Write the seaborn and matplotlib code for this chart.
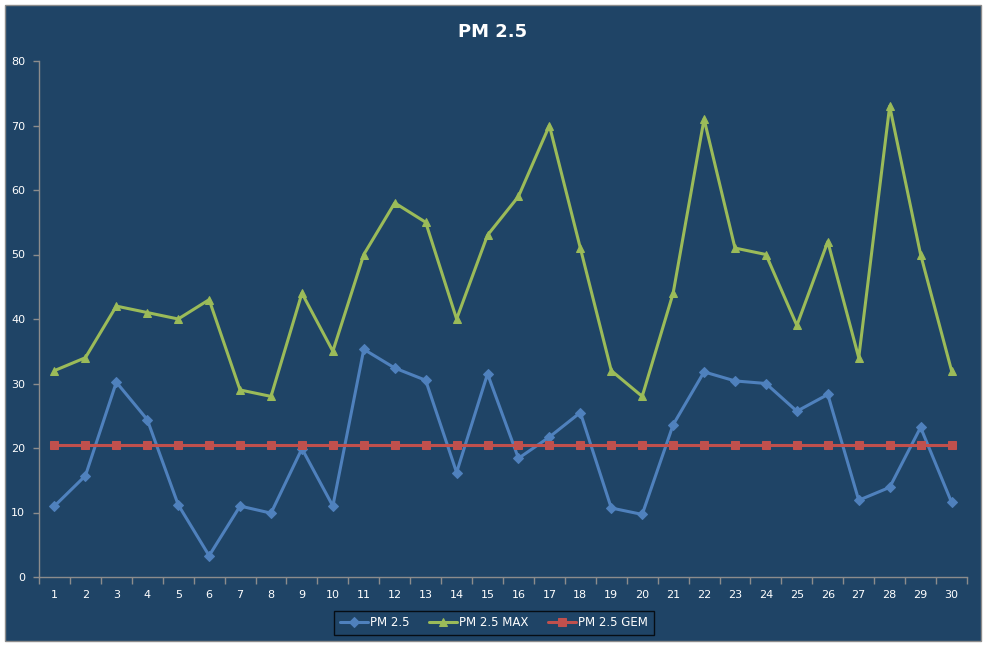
import numpy as np
import pandas as pd
import matplotlib
matplotlib.use("Agg")
import matplotlib.pyplot as plt
import seaborn as sns
from matplotlib.patches import Rectangle

# data
days = list(range(1, 31))
pm25 = [11.0, 15.7, 30.2, 24.4, 11.2, 3.3, 11.0, 9.9, 19.9, 11.0,
        35.3, 32.4, 30.5, 16.2, 31.5, 18.4, 21.7, 25.5, 10.7, 9.7,
        23.6, 31.8, 30.4, 30.0, 25.7, 28.3, 11.9, 13.9, 23.2, 11.6]
pm25_max = [32, 34, 42, 41, 40, 43, 29, 28, 44, 35,
            50, 58, 55, 40, 53, 59, 70, 51, 32, 28,
            44, 71, 51, 50, 39, 52, 34, 73, 50, 32]
pm25_gem = [20.4] * 30

series_names = ["PM 2.5", "PM 2.5 MAX", "PM 2.5 GEM"]

df = pd.DataFrame({"day": days, "PM 2.5": pm25,
                   "PM 2.5 MAX": pm25_max, "PM 2.5 GEM": pm25_gem})
long_df = df.melt(id_vars="day", var_name="series", value_name="value")

bg = "#1F4466"
colors = {"PM 2.5": "#4F81BD", "PM 2.5 MAX": "#9BBB59", "PM 2.5 GEM": "#C0504D"}
markers = {"PM 2.5": "D", "PM 2.5 MAX": "^", "PM 2.5 GEM": "s"}
msizes = {"PM 2.5": 5, "PM 2.5 MAX": 6, "PM 2.5 GEM": 6}

sns.set_style("white")
plt.rcParams['font.family'] = ['DejaVu Sans']

fig = plt.figure(figsize=(9.87, 6.48), dpi=100)
fig.patch.set_facecolor("white")
W, H = 987, 648
# chart area frame, kept behind the axes
fig.patches.append(Rectangle((5 / W, 1 - 641 / H), 976 / W, 636 / H,
                             transform=fig.transFigure, facecolor=bg,
                             edgecolor="#8c8c8c", linewidth=1, zorder=-10))

ax = fig.add_axes([39 / W, 1 - 577 / H, 928 / W, 516 / H])
ax.set_facecolor(bg)
ax.set_zorder(1)

for name in series_names:
    sub = long_df[long_df["series"] == name]
    sns.lineplot(data=sub, x="day", y="value", ax=ax, color=colors[name],
                 marker=markers[name], markersize=msizes[name],
                 markeredgecolor=colors[name], linewidth=2.2, label=name)

ax.set_xlim(0.5, 30.5)
ax.set_ylim(0, 80)
ax.set_yticks(range(0, 81, 10))
ax.set_xticks(np.arange(0.5, 31, 1))
ax.set_xticklabels([])
ax.set_xticks(days, minor=True)
ax.set_xticklabels([str(d) for d in days], minor=True)
ax.tick_params(axis="x", which="major", bottom=True, length=5, width=1,
               color="#8c8c8c", direction="out")
ax.tick_params(axis="x", which="minor", bottom=True, length=0, labelsize=8,
               labelcolor="white", pad=9)
ax.tick_params(axis="y", left=True, length=4, width=1, color="#8c8c8c",
               labelsize=8, labelcolor="white", direction="out", pad=6)
ax.set_xlabel("")
ax.set_ylabel("")

for side in ["top", "right"]:
    ax.spines[side].set_visible(False)
for side in ["left", "bottom"]:
    ax.spines[side].set_color("#8c8c8c")
    ax.spines[side].set_linewidth(1)

fig.text(493 / W, 1 - 32 / H, "PM 2.5", color="white", fontsize=13,
         fontweight="bold", ha="center", va="center")

leg = ax.legend(loc="center", bbox_to_anchor=(494 / W, 1 - 623 / H),
                bbox_transform=fig.transFigure, ncol=3, frameon=True,
                fontsize=8.5, handlelength=2.4, columnspacing=1.6,
                borderpad=0.5, handletextpad=0.2)
leg.get_frame().set_facecolor(bg)
leg.get_frame().set_edgecolor("black")
leg.get_frame().set_linewidth(1)
leg.get_frame().set_boxstyle("square", pad=0)
for t in leg.get_texts():
    t.set_color("white")

fig.savefig("out.png", dpi=100, facecolor=fig.get_facecolor())
